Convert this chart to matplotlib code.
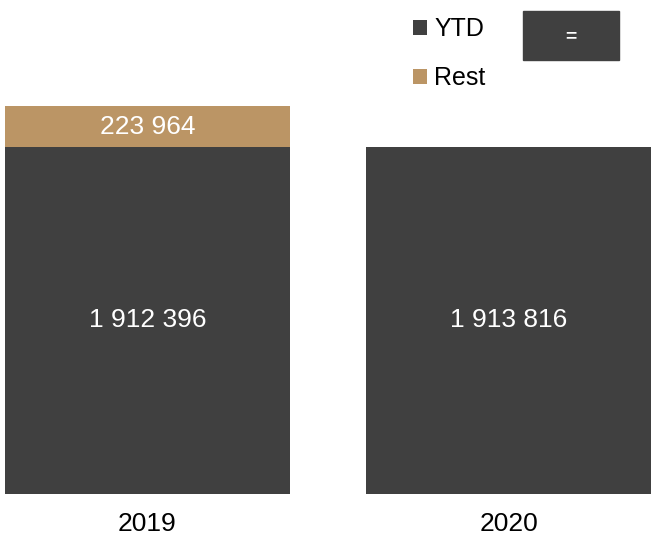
import matplotlib.pyplot as plt
from matplotlib.patches import Rectangle

plt.rcParams['font.family'] = ['Liberation Sans', 'DejaVu Sans']

years = ["2019", "2020"]
ytd = [1912396, 1913816]
rest = [223964, 0]

dark = "#404040"
tan = "#BB9565"

fig = plt.figure(figsize=(6.51, 5.38), dpi=100)
ax = fig.add_axes([5 / 651, 44 / 538, 646 / 651, 494 / 538])

x = range(len(years))
b1 = ax.bar(x, ytd, width=0.787, color=dark, label="YTD")
b2 = ax.bar(x, rest, width=0.787, bottom=ytd, color=tan, label="Rest")

for i in x:
    ax.text(i, ytd[i] / 2, f"{ytd[i]:,}".replace(",", " "),
            ha="center", va="center", color="white", fontsize=19)
    if rest[i] > 0:
        ax.text(i, ytd[i] + rest[i] / 2, f"{rest[i]:,}".replace(",", " "),
                ha="center", va="center", color="white", fontsize=19)

ax.set_xlim(-0.3935, 1.3935)
ax.set_ylim(0, 2722500)
ax.set_xticks(list(x))
ax.set_xticklabels(years, fontsize=19)
ax.tick_params(axis="x", length=0, pad=13)
ax.set_yticks([])
for s in ax.spines.values():
    s.set_visible(False)

fig.legend(handles=[b1, b2], loc="upper left",
           bbox_to_anchor=(413 / 651, 1 - 17 / 538), frameon=False,
           fontsize=18, handlelength=0.55, handleheight=0.55,
           handletextpad=0.3, labelspacing=1.0, borderpad=0, borderaxespad=0)

fig.add_artist(Rectangle((523 / 651, 1 - 60 / 538), 96 / 651, 49 / 538,
                         transform=fig.transFigure, color=dark))
fig.text(571 / 651, 1 - 37 / 538, "=", ha="center", va="center",
         color="white", fontsize=14, fontweight="bold")

fig.savefig("out.png", dpi=100)
